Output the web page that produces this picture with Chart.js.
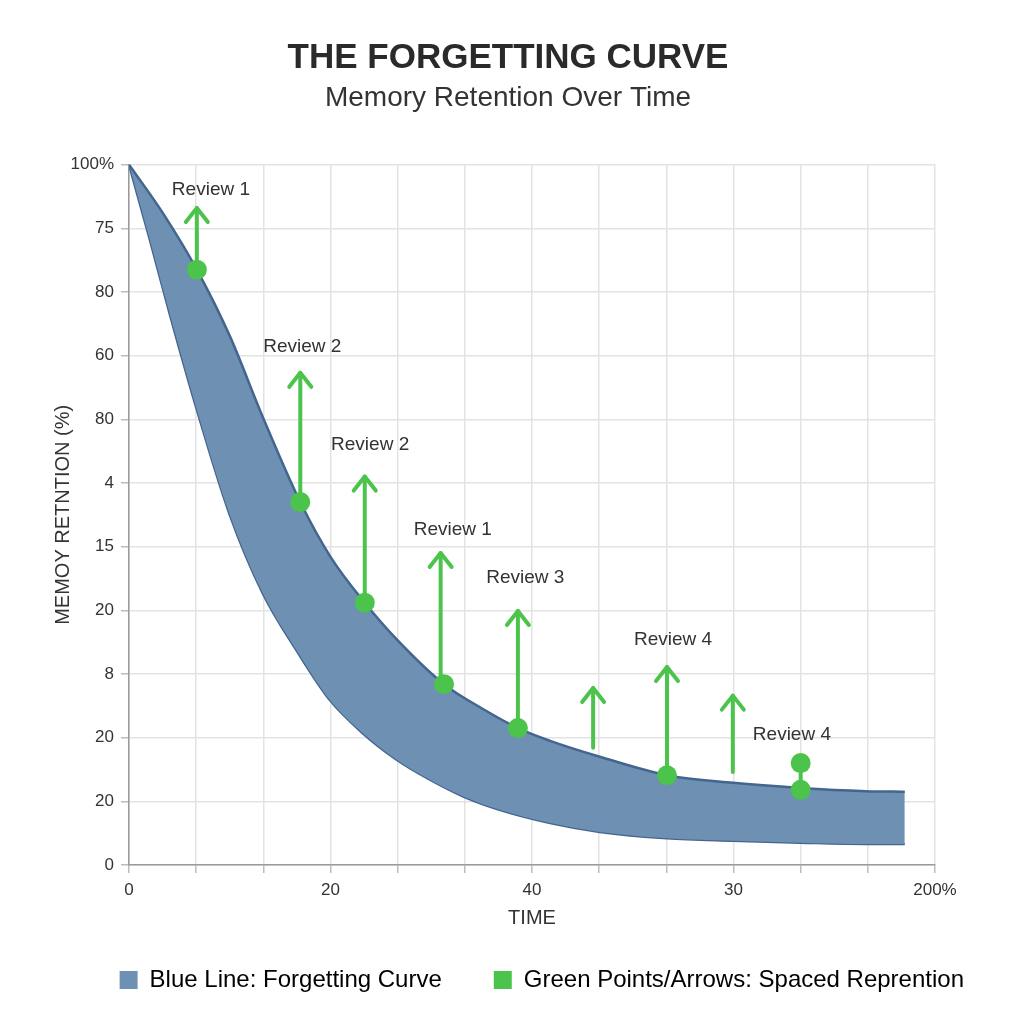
<!DOCTYPE html>
<html>
<head>
<meta charset="utf-8">
<script src="https://cdn.jsdelivr.net/npm/chart.js@4.4.1/dist/chart.umd.min.js"></script>
<style>
  html, body { margin: 0; padding: 0; background: #ffffff; }
  #wrap { width: 1024px; height: 1024px; position: relative; }
</style>
</head>
<body>
<div id="wrap"><canvas id="c"></canvas></div>
<script>
// ---- Data ----
const upperX = [0, 0.51, 1.01, 1.50, 1.99, 2.55, 3.00, 3.51, 3.99, 4.69, 5.27, 5.79, 6.27, 7.01, 8.01, 8.99, 9.99, 10.97, 11.55];
const upperY = [11.0, 10.23, 9.35, 8.31, 7.04, 5.70, 4.84, 4.12, 3.54, 2.84, 2.45, 2.15, 1.95, 1.70, 1.41, 1.29, 1.21, 1.16, 1.15];
const lowerX = [0, 0.31, 0.61, 1.01, 1.50, 1.99, 2.50, 2.99, 3.48, 3.99, 4.48, 4.97, 5.48, 6.27, 7.01, 8.01, 8.99, 9.99, 10.97, 11.55];
const lowerY = [11.0, 9.82, 8.64, 7.15, 5.50, 4.27, 3.36, 2.59, 2.07, 1.65, 1.34, 1.08, 0.88, 0.66, 0.52, 0.42, 0.38, 0.35, 0.33, 0.33];

const reviewX = [1.01, 2.55, 3.51, 4.69, 5.79, 8.01, 10.0, 10.0];
const reviewY = [9.35, 5.70, 4.12, 2.84, 2.15, 1.41, 1.18, 1.60];

const arrowX    = [1.01, 2.55, 3.51, 4.64, 5.79, 6.91, 8.01, 8.99, 10.0];
const arrowFrom = [9.35, 5.70, 4.12, 2.84, 2.15, 1.84, 1.41, 1.46, 1.18];
const arrowTo   = [10.32, 7.73, 6.10, 4.90, 3.99, 2.78, 3.11, 2.66, 1.60];
const arrowHead = [true, true, true, true, true, true, true, true, false];

const labelText = ['Review 1', 'Review 2', 'Review 2', 'Review 1', 'Review 3', 'Review 4', 'Review 4'];
const labelX    = [1.22, 2.58, 3.59, 4.82, 5.90, 8.10, 9.87];
const labelY    = [10.61, 8.14, 6.60, 5.26, 4.51, 3.54, 2.04];

const xTickLabels = ['0', '', '', '20', '', '', '40', '', '', '30', '', '', '200%'];
const yTickLabels = ['0', '20', '20', '8', '20', '15', '4', '80', '60', '80', '75', '100%'];

const legendText = ['Blue Line: Forgetting Curve', 'Green Points/Arrows: Spaced Reprention'];

// ---- Styles ----
const FONT = '"Liberation Sans", Arial, Helvetica, sans-serif';
const BAND_FILL = '#6e90b2';
const BAND_EDGE = '#44658e';
const GREEN = '#4cc44c';
const TEXT = '#333333';

const toXY = (xs, ys) => xs.map((x, i) => ({ x: x, y: ys[i] }));

const annotationPlugin = {
  id: 'reviewArrows',
  afterDatasetsDraw(chart) {
    const { ctx, scales: { x, y } } = chart;
    ctx.save();
    ctx.strokeStyle = GREEN;
    ctx.lineWidth = 4;
    ctx.lineCap = 'round';
    ctx.lineJoin = 'round';
    arrowX.forEach((ax, i) => {
      const px = x.getPixelForValue(ax);
      const p0 = y.getPixelForValue(arrowFrom[i]);
      const p1 = y.getPixelForValue(arrowTo[i]);
      ctx.beginPath();
      ctx.moveTo(px, p0);
      ctx.lineTo(px, p1);
      ctx.stroke();
      if (arrowHead[i]) {
        ctx.beginPath();
        ctx.moveTo(px - 11, p1 + 14);
        ctx.lineTo(px, p1);
        ctx.lineTo(px + 11, p1 + 14);
        ctx.stroke();
      }
    });
    ctx.fillStyle = TEXT;
    ctx.font = '19px ' + FONT;
    ctx.textAlign = 'center';
    ctx.textBaseline = 'middle';
    labelText.forEach((t, i) => {
      ctx.fillText(t, x.getPixelForValue(labelX[i]), y.getPixelForValue(labelY[i]));
    });
    ctx.restore();
  }
};

new Chart(document.getElementById('c'), {
  type: 'line',
  data: {
    datasets: [
      {
        label: 'Review points',
        data: toXY(reviewX, reviewY),
        showLine: false,
        pointRadius: 10,
        pointBorderWidth: 0,
        pointBackgroundColor: GREEN,
        pointBorderColor: GREEN,
        backgroundColor: GREEN,
        order: 0
      },
      {
        label: 'Upper',
        data: toXY(upperX, upperY),
        borderColor: BAND_EDGE,
        borderWidth: 2.5,
        backgroundColor: BAND_FILL,
        fill: '+1',
        pointRadius: 0,
        cubicInterpolationMode: 'monotone',
        order: 1
      },
      {
        label: 'Lower',
        data: toXY(lowerX, lowerY),
        borderColor: BAND_EDGE,
        borderWidth: 2.5,
        fill: false,
        pointRadius: 0,
        cubicInterpolationMode: 'monotone',
        order: 2
      }
    ]
  },
  options: {
    responsive: true,
    maintainAspectRatio: false,
    animation: false,
    layout: { padding: { top: 0, left: 0, right: 8, bottom: 22 } },
    plugins: {
      tooltip: { enabled: false },
      title: {
        display: true,
        text: 'THE FORGETTING CURVE',
        color: '#2a2a2a',
        font: { family: FONT, size: 35, weight: 'bold', lineHeight: 1.2 },
        padding: { top: 37, bottom: 2 }
      },
      subtitle: {
        display: true,
        text: 'Memory Retention Over Time',
        color: TEXT,
        font: { family: FONT, size: 28, lineHeight: 1.2 },
        padding: { top: 0, bottom: 50 }
      },
      legend: {
        display: true,
        position: 'bottom',
        align: 'end',
        labels: {
          boxWidth: 18,
          boxHeight: 18,
          padding: 52,
          color: TEXT,
          font: { family: FONT, size: 24 },
          generateLabels: () => [
            { text: legendText[0], fillStyle: BAND_FILL, strokeStyle: BAND_FILL, lineWidth: 0, hidden: false, datasetIndex: 1 },
            { text: legendText[1], fillStyle: GREEN, strokeStyle: GREEN, lineWidth: 0, hidden: false, datasetIndex: 0 }
          ]
        }
      }
    },
    scales: {
      x: {
        type: 'linear',
        min: 0,
        max: 12,
        afterFit: (s) => { s.height = 51; },
        ticks: {
          stepSize: 1,
          autoSkip: false,
          maxRotation: 0,
          padding: 7,
          color: TEXT,
          font: { family: FONT, size: 17 },
          callback: (v) => xTickLabels[v] !== undefined ? xTickLabels[v] : ''
        },
        grid: { color: '#e3e3e3', lineWidth: 1.5, tickLength: 8, tickColor: '#bdbdbd' },
        border: { color: '#9a9a9a', width: 1.5 },
        title: {
          display: true,
          text: 'TIME',
          color: TEXT,
          font: { family: FONT, size: 20, lineHeight: 1.2 },
          padding: { top: 0, bottom: -14 }
        }
      },
      y: {
        type: 'linear',
        min: 0,
        max: 11,
        afterFit: (s) => { s.width = 129; },
        ticks: {
          stepSize: 1,
          autoSkip: false,
          padding: 7,
          color: TEXT,
          font: { family: FONT, size: 17 },
          callback: (v) => yTickLabels[v] !== undefined ? yTickLabels[v] : ''
        },
        grid: { color: '#e3e3e3', lineWidth: 1.5, tickLength: 8, tickColor: '#bdbdbd' },
        border: { color: '#9a9a9a', width: 1.5 },
        title: {
          display: true,
          text: 'MEMOY RETNTION (%)',
          color: TEXT,
          font: { family: FONT, size: 20, lineHeight: 1.2 },
          padding: { top: 51, bottom: 0 }
        }
      },
      yRight: {
        type: 'linear',
        position: 'right',
        display: true,
        afterFit: (s) => { s.width = 81; },
        ticks: { display: false },
        grid: { display: false },
        border: { display: false }
      }
    }
  },
  plugins: [annotationPlugin]
});
</script>
</body>
</html>
